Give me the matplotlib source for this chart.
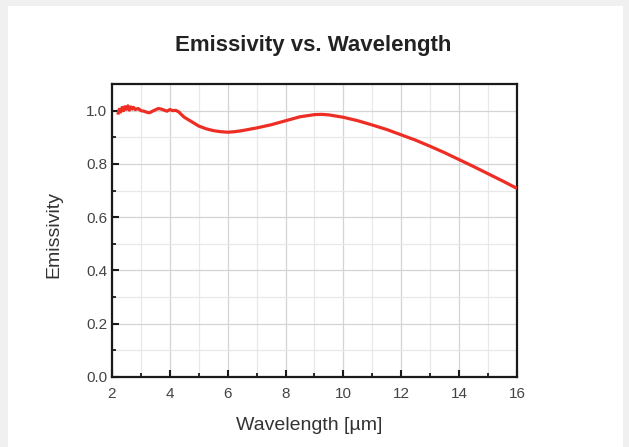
import matplotlib
matplotlib.use("Agg")
import matplotlib.pyplot as plt
import matplotlib.ticker as ticker
import matplotlib.patches as mpatches

wavelength = [2.2, 2.25, 2.3, 2.35, 2.4, 2.45, 2.5, 2.55, 2.6, 2.65, 2.7, 2.75,
              2.8, 2.9, 3.0, 3.1, 3.2, 3.3, 3.4, 3.5, 3.6, 3.7, 3.8, 3.9, 4.0,
              4.1, 4.2, 4.3, 4.4, 4.5, 4.7, 5.0, 5.25, 5.5, 5.75, 6.0, 6.25,
              6.5, 7.0, 7.5, 8.0, 8.5, 9.0, 9.25, 9.5, 10.0, 10.5, 11.0, 11.5,
              12.0, 12.5, 13.0, 13.5, 14.0, 14.5, 15.0, 15.5, 16.0]
emissivity = [0.985, 1.005, 0.995, 1.012, 1.0, 1.015, 1.005, 1.018, 1.002,
              1.014, 1.006, 1.012, 1.004, 1.008, 1.0, 0.998, 0.994, 0.992,
              0.998, 1.003, 1.008, 1.006, 1.002, 0.998, 1.004, 1.0, 1.001,
              0.996, 0.985, 0.975, 0.962, 0.942, 0.932, 0.925, 0.921, 0.919,
              0.921, 0.925, 0.935, 0.947, 0.962, 0.977, 0.985, 0.986, 0.984,
              0.975, 0.962, 0.946, 0.929, 0.909, 0.889, 0.866, 0.842, 0.816,
              0.79, 0.763, 0.736, 0.708]

plt.rcParams["font.family"] = ["Liberation Sans", "DejaVu Sans"]

W, H = 629, 447
fig = plt.figure(figsize=(W/100, H/100), dpi=100)
fig.patch.set_facecolor("#f0f0f0")
# white card behind everything
fig.patches.append(mpatches.Rectangle((8/W, 0), 615/W, 1 - 6/H,
                                      transform=fig.transFigure,
                                      facecolor="white", edgecolor="none",
                                      zorder=-10))

ax = fig.add_axes([112/W, 1 - 377/H, 405/W, 293/H])
ax.set_facecolor("white")
ax.plot(wavelength, emissivity, color="#ee2d24", lw=2.3, solid_capstyle="butt",
        zorder=3)

ax.set_xlim(2, 16)
ax.set_ylim(0, 1.1)
ax.xaxis.set_major_locator(ticker.MultipleLocator(2))
ax.xaxis.set_minor_locator(ticker.MultipleLocator(1))
ax.yaxis.set_major_locator(ticker.MultipleLocator(0.2))
ax.yaxis.set_minor_locator(ticker.MultipleLocator(0.1))
ax.yaxis.set_major_formatter(ticker.FormatStrFormatter("%.1f"))

ax.grid(which="major", color="#d4d4d4", lw=0.9, zorder=0)
ax.grid(which="minor", color="#e8e8e8", lw=0.9, zorder=0)
ax.set_axisbelow(True)

for sp in ax.spines.values():
    sp.set_linewidth(1.6)
    sp.set_color("#1a1a1a")

ax.tick_params(which="major", direction="in", length=5, width=1.5,
               labelsize=11, labelcolor="#444444", color="#1a1a1a", pad=3.5)
ax.tick_params(which="minor", direction="in", length=3, width=1.3,
               color="#1a1a1a")
ax.tick_params(axis="x", pad=7)

fig.text(309/W, 1 - 426/H, "Wavelength [µm]", ha="center", va="center",
         fontsize=14, color="#333333")
fig.text(54/W, 1 - 234/H, "Emissivity", ha="center", va="center",
         rotation=90, fontsize=14, color="#333333")
fig.text(313.5/W, 1 - 45/H, "Emissivity vs. Wavelength", ha="center",
         va="center", fontsize=16, fontweight="bold", color="#222222")

fig.savefig("out.png", dpi=100, facecolor=fig.get_facecolor())
